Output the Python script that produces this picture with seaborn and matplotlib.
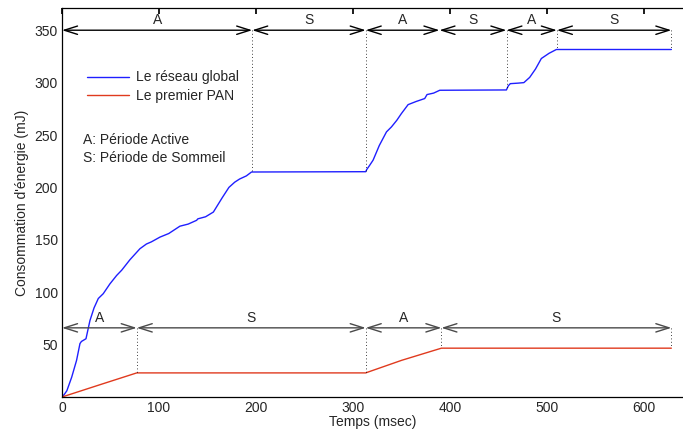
import matplotlib
matplotlib.use("Agg")
import matplotlib.pyplot as plt
import seaborn as sns
import pandas as pd

# courbes
global_t = [0, 2, 5, 10, 15, 18.5, 20, 24.7, 28.8, 33, 37.4, 42.5, 49.4, 56.3, 61.5, 70,
            80.3, 87, 92, 101, 110, 121.5, 130, 138.7, 140, 148, 156, 165, 172, 178, 183,
            190, 195.3, 313, 314, 317, 320.6, 327, 334.4, 339.5, 345, 349.8, 356.7, 365,
            373.8, 376.2, 383, 389.3, 458, 460, 462, 470, 476, 482, 488, 494, 502, 509.5, 628]
global_e = [0.8, 2, 6, 19, 35, 51, 53, 55.6, 73, 85, 94, 98.6, 108, 116, 121, 131,
            141.5, 146, 148, 152.6, 156, 163, 165, 168.6, 170, 172, 176.5, 190, 200, 205, 208,
            211, 214.7, 215, 217, 221, 226, 240, 253, 257.7, 264, 270.5, 279, 282,
            284.8, 288.6, 290, 292.7, 293, 297, 299, 299.5, 300, 305, 313, 323, 328, 331.6, 331.6]
pan_t = [0, 40, 77, 313, 316, 350, 391, 628]
pan_e = [0, 12, 23, 23, 24, 35, 46.6, 46.6]

# périodes (début, fin, étiquette)
top_periods = [(0, 196, "A"), (196, 313, "S"), (313, 389, "A"), (389, 458, "S"),
               (458, 510, "A"), (510, 628, "S")]
bottom_periods = [(0, 77, "A"), (77, 313, "S"), (313, 391, "A"), (391, 628, "S")]
top_y, bottom_y = 350, 66
top_drops = [(196, 215), (313, 215), (459, 293), (510, 331.6), (628, 331.6)]
bottom_drops = [(77, 23), (313, 23), (391, 46.6), (628, 46.6)]

sns.set_theme(style="white")
plt.rcParams["font.family"] = ["Liberation Sans", "DejaVu Sans"]
plt.rcParams["font.size"] = 10

df = pd.concat([
    pd.DataFrame({"t": global_t, "e": global_e, "serie": "Le réseau global"}),
    pd.DataFrame({"t": pan_t, "e": pan_e, "serie": "Le premier PAN"}),
])

fig = plt.figure(figsize=(6.83, 4.32), dpi=100)
ax = fig.add_axes([0.0908, 0.081, 0.9092, 0.90])
sns.lineplot(data=df, x="t", y="e", hue="serie", sort=False, estimator=None,
             palette={"Le réseau global": "#1f1fff", "Le premier PAN": "#e03a1e"},
             linewidth=1.0, ax=ax)

head = "<->,head_length=0.95,head_width=0.3"
for periods, y, col in [(top_periods, top_y, "black"), (bottom_periods, bottom_y, "#4a4a4a")]:
    for a, b, lab in periods:
        ax.annotate("", xy=(a, y), xytext=(b, y),
                    arrowprops=dict(arrowstyle=head, color=col, lw=1.0,
                                    shrinkA=0, shrinkB=0, mutation_scale=10))
        ax.text((a + b) / 2, y + 3, lab, ha="center", va="bottom", fontsize=10)

for x, y in top_drops:
    ax.plot([x, x], [top_y, y], ls=(0, (1, 3)), color="black", lw=0.6)
for x, y in bottom_drops:
    ax.plot([x, x], [bottom_y, y], ls=(0, (1, 3)), color="black", lw=0.6)

ax.set_xlim(0, 640)
ax.set_ylim(0, 371)
ax.set_xticks([0, 100, 200, 300, 400, 500, 600])
ax.set_yticks([50, 100, 150, 200, 250, 300, 350])
ax.tick_params(direction="in", top=True, right=False, length=4, labelsize=10,
               pad=3, color="black")
for s in ["left", "bottom", "top"]:
    ax.spines[s].set_color("black")
    ax.spines[s].set_linewidth(0.9)
ax.spines["right"].set_visible(False)
ax.set_xlabel("Temps (msec)", fontsize=10, labelpad=0)
ax.set_ylabel("Consommation d'énergie (mJ)", fontsize=10, labelpad=4)

ax.legend(title=None, frameon=False, loc="upper left", bbox_to_anchor=(0.02, 0.872),
          handlelength=3.0, handletextpad=0.5, fontsize=10, labelspacing=0.35)
ax.text(0.034, 0.678, "A: Période Active\nS: Période de Sommeil", transform=ax.transAxes,
        ha="left", va="top", fontsize=10, linespacing=1.3)

fig.savefig("out.png", dpi=100)
